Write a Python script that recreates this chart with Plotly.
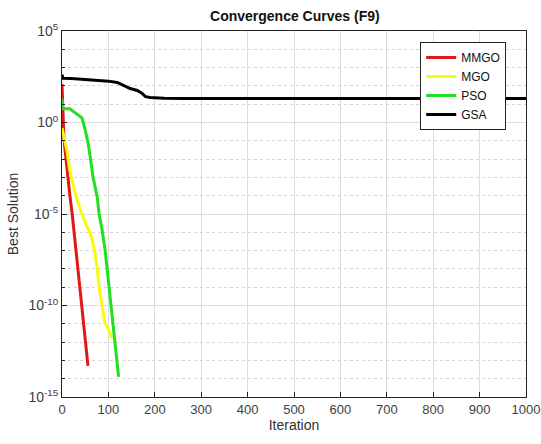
import plotly.graph_objects as go

# Iteration / best-solution pairs for each optimiser
mmgo_iter = [0, 2, 4, 7, 12, 17, 22, 28, 34, 39, 43, 47, 52, 56]
mmgo_best = [1.26e2, 3.2e0, 1.6e-1, 2.5e-2, 1.0e-3, 1.0e-4, 1.0e-5, 3.2e-7,
             1.6e-8, 1.0e-9, 5.0e-11, 6.3e-12, 5.0e-13, 5.0e-14]

mgo_iter = [0, 3, 6, 11, 16, 22, 30, 43, 52, 60, 66, 72, 76, 80, 86, 92, 100, 108]
mgo_best = [5.0e-1, 2.5e-1, 1.0e-1, 2.5e-2, 3.2e-3, 6.3e-4, 1.0e-4, 1.0e-5,
            2.5e-6, 1.0e-6, 3.2e-7, 5.0e-8, 1.0e-8, 1.0e-9, 1.0e-10,
            1.26e-11, 5.0e-12, 1.6e-12]

pso_iter = [0, 2, 17, 22, 28, 35, 43, 50, 56, 61, 67, 72, 76, 80, 86, 93,
            98, 104, 108, 115, 119, 122]
pso_best = [2.0e1, 5.6e0, 5.6e0, 4.5e0, 3.2e0, 2.5e0, 1.8e0, 4.0e-1, 8.0e-2,
            1.26e-2, 1.0e-3, 2.5e-4, 8.0e-5, 1.0e-5, 1.6e-6, 1.0e-7, 6.3e-9,
            2.5e-10, 4.0e-11, 1.26e-12, 1.0e-13, 1.26e-14]

gsa_iter = [0, 2, 20, 50, 82, 100, 119, 135, 147, 162, 172, 180, 190, 220, 260, 1000]
gsa_best = [4.17e2, 2.63e2, 2.51e2, 2.29e2, 2.0e2, 1.82e2, 1.55e2, 1.05e2,
            7.2e1, 5.6e1, 4.0e1, 2.6e1, 2.35e1, 2.14e1, 2.04e1, 2.04e1]

series = [
    ("MMGO", mmgo_iter, mmgo_best, "#e01818"),
    ("MGO", mgo_iter, mgo_best, "#fafa10"),
    ("PSO", pso_iter, pso_best, "#20e020"),
    ("GSA", gsa_iter, gsa_best, "#000000"),
]

y_ticks = [1e5, 1e0, 1e-5, 1e-10, 1e-15]
y_tick_text = ["10<sup>5</sup>", "10<sup>0</sup>", "10<sup>-5</sup>",
               "10<sup>-10</sup>", "10<sup>-15</sup>"]
x_ticks = list(range(0, 1001, 100))

FAM = "Liberation Sans, Arial, sans-serif"

fig = go.Figure()
for name, xs, ys, color in series:
    fig.add_trace(go.Scatter(x=xs, y=ys, mode="lines", name=name,
                             line=dict(color=color, width=3)))

fig.update_layout(
    width=541, height=444,
    margin=dict(l=62, r=15, t=31, b=47),
    paper_bgcolor="white", plot_bgcolor="white",
    font=dict(family=FAM, size=13, color="#404040"),
    title=dict(text="<b>Convergence Curves (F9)</b>", x=0.545, xanchor="center",
               y=0.963, yanchor="middle",
               font=dict(family=FAM, size=14, color="#111111")),
    showlegend=True,
    legend=dict(x=0.772, y=0.97, xanchor="left", yanchor="top",
                bgcolor="white", bordercolor="#222222", borderwidth=1,
                font=dict(family=FAM, size=12, color="#111111"),
                tracegroupgap=0, itemwidth=30),
    xaxis=dict(
        range=[0, 1000], tickvals=x_ticks, automargin=False,
        tickfont=dict(family=FAM, size=13, color="#404040"),
        title=dict(text="Iteration", standoff=4,
                   font=dict(family=FAM, size=14, color="#333333")),
        showgrid=True, gridcolor="#dcdcdc", gridwidth=1,
        showline=True, linecolor="#222222", linewidth=1, mirror=True,
        ticks="inside", ticklen=5, tickcolor="#222222",
        zeroline=False,
    ),
    yaxis=dict(
        type="log", range=[-15, 5], tickvals=y_ticks, ticktext=y_tick_text,
        automargin=False, tickfont=dict(family=FAM, size=14, color="#404040"),
        title=dict(text="Best Solution", standoff=6,
                   font=dict(family=FAM, size=14, color="#333333")),
        showgrid=True, gridcolor="#dcdcdc", gridwidth=1,
        showline=True, linecolor="#222222", linewidth=1, mirror=True,
        ticks="inside", ticklen=5, tickcolor="#222222",
        minor=dict(dtick=1, showgrid=True, gridcolor="#d4d4d4", griddash="dot",
                   ticks="inside", ticklen=3, tickcolor="#222222"),
        zeroline=False,
    ),
)

fig.write_html("out.html")
